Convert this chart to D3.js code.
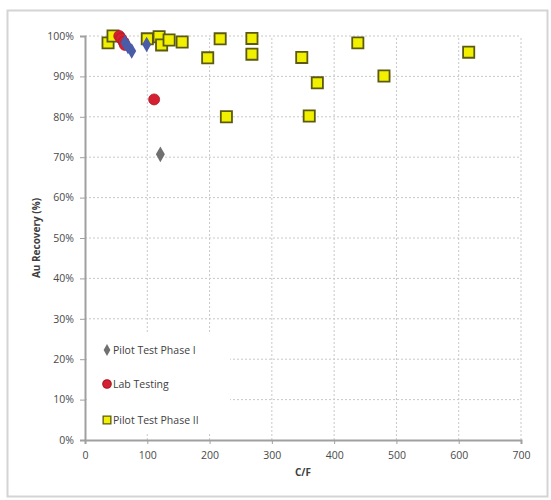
<!DOCTYPE html>
<html><head><meta charset="utf-8">
<script src="https://cdn.jsdelivr.net/npm/d3@7"></script>
<style>body{margin:0;background:#fff;}svg{display:block;}</style>
</head><body>
<svg id="c" width="551" height="500"></svg>
<script>
const xTicks = [0,100,200,300,400,500,600,700];
const yTicks = [0,10,20,30,40,50,60,70,80,90,100];
const seriesNames = ["Pilot Test Phase I","Lab Testing","Pilot Test Phase II"];
const phase1X = [64, 69, 75, 99, 121];
const phase1Y = [98.4, 97.4, 96.3, 97.9, 70.7];
const labX = [55, 58, 62, 64, 111];
const labY = [100, 99.4, 98.5, 97.8, 84.3];
const phase2X = [37, 45, 100, 119, 123, 135, 156, 197, 217, 227, 268, 268, 348, 360, 373, 438, 480, 616];
const phase2Y = [98.3, 100, 99.3, 99.8, 97.8, 99, 98.5, 94.6, 99.3, 80, 99.4, 95.5, 94.7, 80.2, 88.4, 98.3, 90.1, 96];

const svg = d3.select("#c");
const font = "'Open Sans', 'Liberation Sans', sans-serif";
// outer frame
svg.append("rect").attr("x",7.5).attr("y",10.5).attr("width",540).attr("height",486)
  .attr("fill","#fff").attr("stroke","#d4d4d4").attr("stroke-width",2);

const x = d3.scaleLinear().domain([0,700]).range([85,521]);
const y = d3.scaleLinear().domain([0,100]).range([440,36]);

// gridlines
const g = svg.append("g");
g.selectAll("line.h").data(yTicks.slice(1)).join("line")
  .attr("x1",x(0)).attr("x2",x(700)).attr("y1",d=>y(d)).attr("y2",d=>y(d))
  .attr("stroke","#c8c8c8").attr("stroke-dasharray","2,2");
g.selectAll("line.v").data(xTicks.slice(1)).join("line")
  .attr("y1",y(0)).attr("y2",y(100)).attr("x1",d=>x(d)).attr("x2",d=>x(d))
  .attr("stroke","#c8c8c8").attr("stroke-dasharray","2,2");

// legend background (covers grid)
svg.append("rect").attr("x",x(0)+2).attr("y",332).attr("width",143).attr("height",100).attr("fill","#fff");

// axes
const xa = svg.append("g").attr("transform",`translate(0,${y(0)})`)
  .call(d3.axisBottom(x).tickValues(xTicks).tickSize(4).tickPadding(8).tickFormat(d3.format("d")));
const ya = svg.append("g").attr("transform",`translate(${x(0)},0)`)
  .call(d3.axisLeft(y).tickValues(yTicks).tickSize(5).tickPadding(6).tickFormat(d=>d+"%"));
[xa,ya].forEach(a=>{
  a.select(".domain").attr("stroke","#a0a0a0").attr("stroke-width",2);
  a.selectAll(".tick line").attr("stroke","#a0a0a0");
  a.selectAll(".tick text").attr("fill","#4a4a4a").attr("font-family",font).attr("font-size",10.5);
});

svg.append("text").attr("x",(x(0)+x(700))/2).attr("y",476).attr("text-anchor","middle")
  .attr("font-family",font).attr("font-size",10).attr("font-weight","bold").attr("fill","#404040").text("C/F");
svg.append("text").attr("transform",`translate(40,${(y(0)+y(100))/2}) rotate(-90)`).attr("text-anchor","middle")
  .attr("font-family",font).attr("font-size",10).attr("font-weight","bold").attr("fill","#404040").text("Au Recovery (%)");

const diamond = d3.symbol().type(d3.symbolDiamond).size(70);
const circle = d3.symbol().type(d3.symbolCircle).size(95);
const square = d3.symbol().type(d3.symbolSquare).size(125);

const p2 = phase2X.map((v,i)=>[v,phase2Y[i]]);
const p1 = phase1X.map((v,i)=>[v,phase1Y[i]]);
const lb = labX.map((v,i)=>[v,labY[i]]);

svg.append("g").selectAll("path").data(p2).join("path")
  .attr("d",square).attr("transform",d=>`translate(${x(d[0])},${y(d[1])})`)
  .attr("fill","#f0f000").attr("stroke","#5b5a10").attr("stroke-width",1.8);
svg.append("g").selectAll("path").data(lb).join("path")
  .attr("d",circle).attr("transform",d=>`translate(${x(d[0])},${y(d[1])})`)
  .attr("fill","#d42030").attr("stroke","#b01828").attr("stroke-width",0.8);
svg.append("g").selectAll("path").data(p1).join("path")
  .attr("d",diamond).attr("transform",d=>`translate(${x(d[0])},${y(d[1])})`)
  .attr("fill",(d,i)=> d[1]>90 ? "#4a5ca8" : "#707070");

// legend
const legY = [350, 384, 420];
const fills = ["#707070","#d42030","#f0f000"];
const strokes = ["none","#b01828","#5b5a10"];
const lg = svg.append("g");
seriesNames.forEach((n,i)=>{
  lg.append("path").attr("d", d3.symbol().type([d3.symbolDiamond,d3.symbolCircle,d3.symbolSquare][i]).size([40,55,60][i]))
    .attr("transform",`translate(107,${legY[i]})`).attr("fill",fills[i]).attr("stroke",strokes[i]).attr("stroke-width",1.3);
  lg.append("text").attr("x",113).attr("y",legY[i]+3.5).attr("font-family",font).attr("font-size",10.5)
    .attr("fill","#404040").text(n);
});
</script>
</body></html>
